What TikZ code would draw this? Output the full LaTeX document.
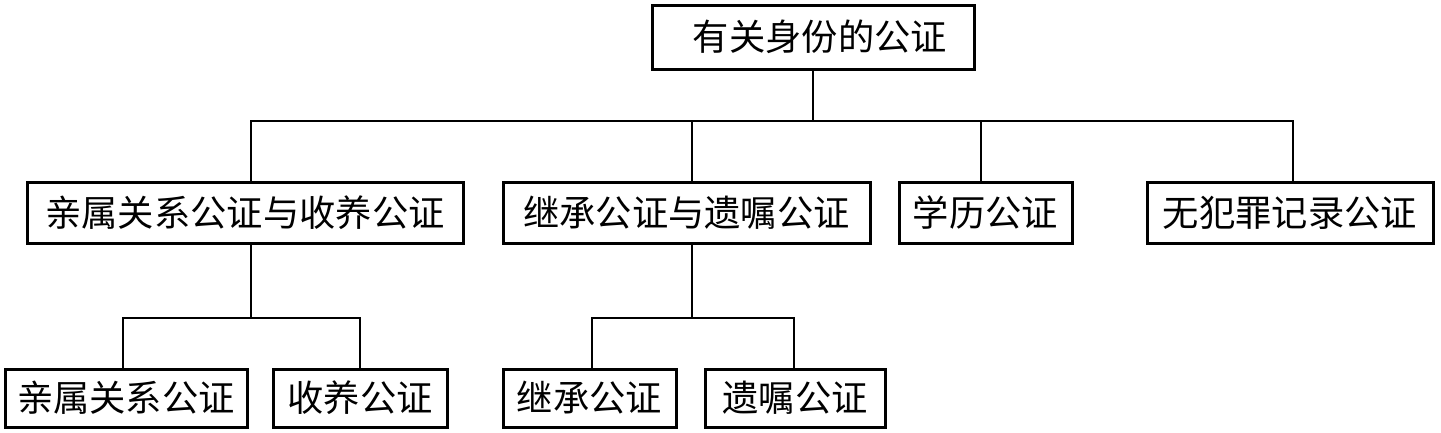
\documentclass[tikz,border=0pt]{standalone}
\usepackage{fontspec}
\newfontfamily\cjk{Noto Sans CJK SC}
\begin{document}
\begin{tikzpicture}[x=1pt,y=1pt,
  box/.style={draw=black,line width=3pt,fill=white,rectangle,inner sep=0pt,
    font=\cjk\fontsize{36.3}{40}\selectfont,anchor=center},
  link/.style={draw=black,line width=2.6pt}]
\useasboundingbox (0,0) rectangle (1441,-432);
% level 1
\node[box,minimum width=322pt,minimum height=64pt] (top) at (813,-37) {\hspace{14pt}有关身份的公证};
% level 2
\node[box,minimum width=436pt,minimum height=61pt] (b1) at (245,-212.5) {亲属关系公证与收养公证};
\node[box,minimum width=367pt,minimum height=61pt] (b2) at (686.5,-212.5) {继承公证与遗嘱公证};
\node[box,minimum width=173pt,minimum height=61pt] (b3) at (985.5,-212.5) {学历公证};
\node[box,minimum width=286pt,minimum height=61pt] (b4) at (1290,-212.5) {无犯罪记录公证};
% level 3
\node[box,minimum width=242pt,minimum height=58pt] (c1) at (126,-398) {亲属关系公证};
\node[box,minimum width=174pt,minimum height=58pt] (c2) at (360,-398) {收养公证};
\node[box,minimum width=173pt,minimum height=58pt] (c3) at (589.5,-398) {继承公证};
\node[box,minimum width=180pt,minimum height=58pt] (c4) at (795,-398) {遗嘱公证};
% bus coordinates
\coordinate (bus) at (813,-121);
\coordinate (s1) at (251,-121);
\coordinate (s2) at (692,-121);
\coordinate (s3) at (981,-121);
\coordinate (s4) at (1293,-121);
\coordinate (t1) at (251,-318);
\coordinate (u1) at (123,-318);
\coordinate (u2) at (360,-318);
\coordinate (t2) at (692,-318);
\coordinate (v1) at (592,-318);
\coordinate (v2) at (794,-318);
% connectors level 1 -> 2
\draw[link] (top.south) -- (top.south |- bus);
\draw[link,line cap=rect] (s1) -- (s4);
\draw[link] (s1) -- (b1.north -| s1);
\draw[link] (s2) -- (b2.north -| s2);
\draw[link] (s3) -- (b3.north -| s3);
\draw[link] (s4) -- (b4.north -| s4);
% connectors level 2 -> 3
\draw[link] (b1.south -| t1) -- (t1);
\draw[link,line cap=rect] (u1) -- (u2);
\draw[link] (u1) -- (c1.north -| u1);
\draw[link] (u2) -- (c2.north -| u2);
\draw[link] (b2.south -| t2) -- (t2);
\draw[link,line cap=rect] (v1) -- (v2);
\draw[link] (v1) -- (c3.north -| v1);
\draw[link] (v2) -- (c4.north -| v2);
\end{tikzpicture}
\end{document}
